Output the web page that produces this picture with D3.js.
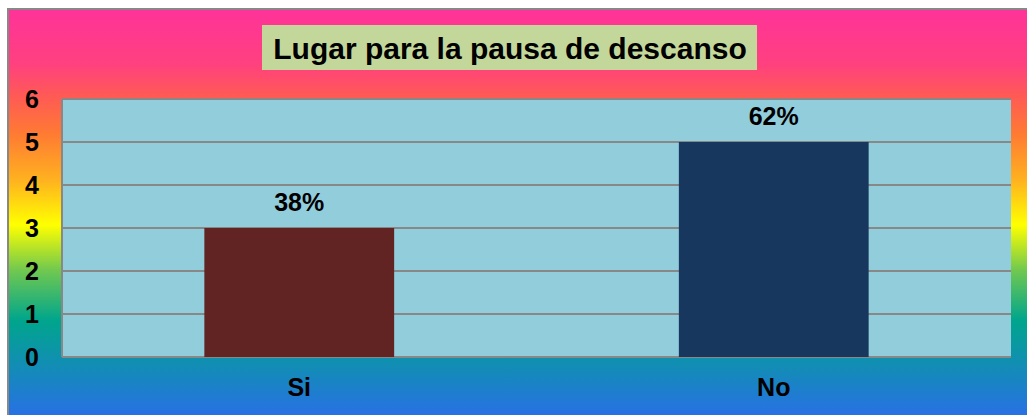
<!DOCTYPE html>
<html>
<head>
<meta charset="utf-8">
<script src="https://cdn.jsdelivr.net/npm/d3@7"></script>
<style>
  body { margin: 0; background: #fff; }
  svg { display: block; font-family: Arial, "Liberation Sans", sans-serif; }
</style>
</head>
<body>
<svg id="chart" width="1027" height="415"></svg>
<script>
const categories = ['Si', 'No'];
const values = [3, 5];
const percentLabels = ['38%', '62%'];
const barColors = ['#622423', '#17375E'];
const yTicks = [0, 1, 2, 3, 4, 5, 6];
const title = 'Lugar para la pausa de descanso';

const width = 1027;
const height = 415;
const plot = { left: 62, right: 1011, top: 99, bottom: 357 };
const labelSize = 25;

const svg = d3.select('#chart');
const defs = svg.append('defs');

// fondo arcoiris
const grad = defs.append('linearGradient')
  .attr('id', 'bg-grad')
  .attr('x1', 0).attr('y1', 0).attr('x2', 0).attr('y2', 1);
[
  [0, '#FF3399'],
  [0.13, '#FF4080'],
  [0.21, '#FF5A55'],
  [0.30, '#FF7A33'],
  [0.41, '#FFB020'],
  [0.52, '#FFFF00'],
  [0.63, '#70C850'],
  [0.75, '#00A58C'],
  [0.86, '#128DB5'],
  [1, '#2C6CEC'],
].forEach(([o, c]) => grad.append('stop').attr('offset', o).attr('stop-color', c));

svg.append('rect')
  .attr('x', 8).attr('y', 9)
  .attr('width', width).attr('height', height)
  .attr('fill', 'url(#bg-grad)')
  .attr('stroke', '#888').attr('stroke-width', 2);

// titulo
const titleG = svg.append('g');
titleG.append('rect')
  .attr('x', 262).attr('y', 25)
  .attr('width', 495).attr('height', 45)
  .attr('fill', '#C4D79B');
titleG.append('text')
  .attr('x', 510).attr('y', 59)
  .attr('text-anchor', 'middle')
  .attr('font-size', 30).attr('font-weight', 'bold')
  .text(title);

// escalas
const xScale = d3.scaleBand().domain(categories).range([plot.left, plot.right]);
const yScale = d3.scaleLinear().domain([0, 6]).range([plot.bottom, plot.top]);
const barWidth = xScale.bandwidth() * 0.4;

const chart = svg.append('g');

chart.append('rect')
  .attr('x', plot.left).attr('y', plot.top)
  .attr('width', plot.right - plot.left).attr('height', plot.bottom - plot.top)
  .attr('fill', '#92CDDC');

chart.selectAll('.grid')
  .data(yTicks)
  .join('line')
  .attr('class', 'grid')
  .attr('x1', plot.left).attr('x2', plot.right)
  .attr('y1', (d) => yScale(d)).attr('y2', (d) => yScale(d))
  .attr('stroke', '#888').attr('stroke-width', 2);

chart.append('line')
  .attr('x1', plot.left).attr('x2', plot.left)
  .attr('y1', plot.top).attr('y2', plot.bottom)
  .attr('stroke', '#888').attr('stroke-width', 2);

const data = categories.map((c, i) => ({
  cat: c, value: values[i], label: percentLabels[i], color: barColors[i],
}));

chart.selectAll('.bar')
  .data(data)
  .join('rect')
  .attr('class', 'bar')
  .attr('x', (d) => xScale(d.cat) + (xScale.bandwidth() - barWidth) / 2)
  .attr('y', (d) => yScale(d.value))
  .attr('width', barWidth)
  .attr('height', (d) => yScale(0) - yScale(d.value))
  .attr('fill', (d) => d.color);

chart.selectAll('.bar-label')
  .data(data)
  .join('text')
  .attr('class', 'bar-label')
  .attr('x', (d) => xScale(d.cat) + xScale.bandwidth() / 2)
  .attr('y', (d) => yScale(d.value) - 17)
  .attr('text-anchor', 'middle')
  .attr('font-size', labelSize).attr('font-weight', 'bold')
  .text((d) => d.label);

// ejes
const yAxisG = svg.append('g')
  .attr('transform', `translate(${plot.left},0)`)
  .call(d3.axisLeft(yScale).tickValues(yTicks).tickFormat(d3.format('d')).tickSize(0));
yAxisG.select('.domain').remove();
yAxisG.selectAll('text')
  .attr('font-size', labelSize).attr('font-weight', 'bold')
  .attr('font-family', 'Arial, "Liberation Sans", sans-serif')
  .attr('fill', '#000').attr('text-anchor', 'middle')
  .attr('x', 32 - plot.left).attr('dy', '0.35em');

const xAxisG = svg.append('g')
  .attr('transform', `translate(0,${plot.bottom})`)
  .call(d3.axisBottom(xScale).tickSize(0).tickPadding(0));
xAxisG.select('.domain').remove();
xAxisG.selectAll('text')
  .attr('font-size', labelSize).attr('font-weight', 'bold')
  .attr('font-family', 'Arial, "Liberation Sans", sans-serif')
  .attr('fill', '#000')
  .attr('dy', 0).attr('y', 39);
</script>
</body>
</html>
